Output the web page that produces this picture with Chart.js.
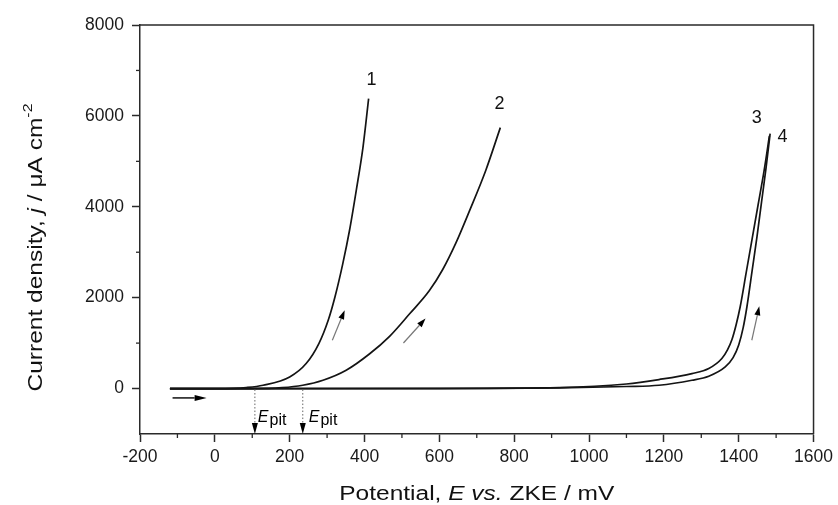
<!DOCTYPE html>
<html>
<head>
<meta charset="utf-8">
<script src="https://cdn.jsdelivr.net/npm/chart.js@4.4.0/dist/chart.umd.min.js"></script>
<style>
    html, body { margin: 0; padding: 0; background: #fff; }
    #wrap { width: 838px; height: 505px; }
</style>
</head>
<body>
<div id="wrap"><canvas id="myChart" width="838" height="505"></canvas></div>
<script>
//region Данные (E в мВ, j в мкА/см2)
const curve1E = [-120, 0, 50, 84, 129, 200, 244, 278, 303, 321, 342, 360, 378, 396, 411];
const curve1J = [0, 0, 5, 22, 73, 255, 550, 990, 1503, 2015, 2750, 3483, 4363, 5315, 6380];

const curve2E = [-120, 100, 180, 235, 289, 351, 413, 467, 520, 573, 609, 644, 680, 724, 763];
const curve2J = [0, 0, 20, 73, 183, 403, 760, 1150, 1640, 2150, 2620, 3200, 3900, 4800, 5742];

const curve3E = [-120, 600, 920, 1100, 1187, 1275, 1320, 1355, 1370, 1382, 1393, 1404, 1420, 1436, 1452, 1468, 1482];
const curve3J = [0, 5, 22, 100, 198, 330, 440, 660, 850, 1080, 1400, 1800, 2550, 3300, 4050, 4800, 5560];

const curve4E = [-120, 600, 920, 1100, 1187, 1275, 1320, 1364, 1385, 1400, 1412, 1422, 1436, 1449, 1461, 1473, 1484];
const curve4J = [0, 0, 15, 45, 73, 183, 271, 475, 680, 960, 1340, 1800, 2600, 3350, 4100, 4850, 5610];

const xTicks = [-200, -100, 0, 100, 200, 300, 400, 500, 600, 700, 800, 900, 1000, 1100, 1200, 1300, 1400, 1500, 1600];
const xLabels = [-200, 0, 200, 400, 600, 800, 1000, 1200, 1400, 1600];
const yTicks = [-1000, 0, 1000, 2000, 3000, 4000, 5000, 6000, 7000, 8000];
const yLabels = [0, 2000, 4000, 6000, 8000];

// подписи кривых
const curveNames = ['1', '2', '3', '4'];
const curveNameE = [419, 761, 1448, 1517];
const curveNameJ = [6780, 6266, 5947, 5533];

// стрелки направления развертки [E0, j0, E1, j1]
const scanArrows = [[314, 1063, 347, 1723], [504, 1003, 563, 1540], [1435, 1063, 1455, 1810]];
const startArrow = [-113, -206, -22, -206];
const pitE = [107, 235];
const pitLabelE = [115, 251];
const pitLabelJ = -735;
//endregion

function pts(xs, ys) {
    return xs.map((x, i) => ({x: x, y: ys[i]}));
}

const lineColor = '#141414';
const axisColor = '#2a2a2a';

function arrow(c, x0, y0, x1, y1, col, len, w) {
    let a = Math.atan2(y1 - y0, x1 - x0);
    let bx = x1 - Math.cos(a) * len, by = y1 - Math.sin(a) * len;
    c.strokeStyle = col;
    c.beginPath();
    c.moveTo(x0, y0);
    c.lineTo(bx, by);
    c.stroke();
    c.fillStyle = '#000';
    c.beginPath();
    c.moveTo(x1, y1);
    c.lineTo(bx + Math.sin(a) * w / 2, by - Math.cos(a) * w / 2);
    c.lineTo(bx - Math.sin(a) * w / 2, by + Math.cos(a) * w / 2);
    c.closePath();
    c.fill();
}

// текст из кусков с разными шрифтами, по центру, с растяжкой по ширине
function richText(c, parts, cx, baseY, targetW) {
    let w = 0;
    parts.forEach(p => { c.font = p.font; p.w = c.measureText(p.t).width; w += p.w; });
    let k = targetW ? targetW / w : 1;
    c.save();
    c.translate(cx, baseY);
    c.scale(k, 1);
    let x = -w / 2;
    c.textAlign = 'left';
    c.textBaseline = 'alphabetic';
    parts.forEach(p => {
        c.font = p.font;
        c.fillText(p.t, x, p.dy || 0);
        x += p.w;
    });
    c.restore();
}

const extras = {
    id: 'extras',
    afterDraw(chart) {
        const c = chart.ctx;
        const xs = chart.scales.x, ys = chart.scales.y;
        const a = chart.chartArea;
        c.save();

        // рамка сверху и справа
        c.strokeStyle = axisColor;
        c.lineWidth = 1.5;
        c.beginPath();
        c.moveTo(a.left, a.top);
        c.lineTo(a.right, a.top);
        c.lineTo(a.right, a.bottom);
        c.stroke();

        // малые засечки
        c.lineWidth = 1.3;
        xTicks.filter(v => !xLabels.includes(v)).forEach(v => {
            let px = xs.getPixelForValue(v);
            c.beginPath();
            c.moveTo(px, a.bottom);
            c.lineTo(px, a.bottom + 4);
            c.stroke();
        });
        yTicks.filter(v => !yLabels.includes(v) && v > ys.min).forEach(v => {
            let py = ys.getPixelForValue(v);
            c.beginPath();
            c.moveTo(a.left, py);
            c.lineTo(a.left - 4, py);
            c.stroke();
        });

        // номера кривых
        c.fillStyle = '#111';
        c.font = '18px "Liberation Sans", Arial, sans-serif';
        c.textAlign = 'center';
        c.textBaseline = 'middle';
        curveNames.forEach((n, i) => {
            c.fillText(n, xs.getPixelForValue(curveNameE[i]), ys.getPixelForValue(curveNameJ[i]));
        });

        // стрелки
        c.lineWidth = 1.2;
        scanArrows.forEach(s => {
            arrow(c, xs.getPixelForValue(s[0]), ys.getPixelForValue(s[1]),
                xs.getPixelForValue(s[2]), ys.getPixelForValue(s[3]), '#777', 9, 6);
        });
        c.lineWidth = 1.5;
        arrow(c, xs.getPixelForValue(startArrow[0]), ys.getPixelForValue(startArrow[1]),
            xs.getPixelForValue(startArrow[2]), ys.getPixelForValue(startArrow[3]), '#111', 12, 6);

        // E_pit
        pitE.forEach((e, i) => {
            let px = xs.getPixelForValue(e);
            c.lineWidth = 1;
            c.setLineDash([1.5, 2]);
            c.strokeStyle = '#666';
            c.beginPath();
            c.moveTo(px, ys.getPixelForValue(0) + 1);
            c.lineTo(px, a.bottom - 10);
            c.stroke();
            c.setLineDash([]);
            c.fillStyle = '#000';
            c.beginPath();
            c.moveTo(px, a.bottom);
            c.lineTo(px - 3, a.bottom - 11);
            c.lineTo(px + 3, a.bottom - 11);
            c.closePath();
            c.fill();

            let lx = xs.getPixelForValue(pitLabelE[i]);
            let ly = ys.getPixelForValue(pitLabelJ);
            c.textAlign = 'left';
            c.textBaseline = 'alphabetic';
            c.font = 'italic 16px "Liberation Sans", Arial, sans-serif';
            c.fillText('E', lx, ly);
            let ew = c.measureText('E').width;
            c.font = '16px "Liberation Sans", Arial, sans-serif';
            c.fillText('pit', lx + ew + 1, ly + 3);
        });

        // подписи осей
        c.fillStyle = '#111';
        const f = '20px "Liberation Sans", Arial, sans-serif';
        const fi = 'italic 20px "Liberation Sans", Arial, sans-serif';
        richText(c, [
            {t: 'Potential, ', font: f},
            {t: 'E', font: fi},
            {t: ' ', font: f},
            {t: 'vs.', font: fi},
            {t: ' ZKE / mV', font: f}
        ], (a.left + a.right) / 2, 499.5, 275);

        c.save();
        c.translate(41.5, 247.5);
        c.rotate(-Math.PI / 2);
        richText(c, [
            {t: 'Current density, ', font: f},
            {t: 'j', font: fi},
            {t: ' / \u03bcA cm', font: f},
            {t: '-2', font: '13px "Liberation Sans", Arial, sans-serif', dy: -10}
        ], 0, 0, 288);
        c.restore();

        c.restore();
    }
};

function mkSet(xs, ys) {
    return {
        data: pts(xs, ys),
        showLine: true,
        borderColor: lineColor,
        borderWidth: 1.7,
        pointRadius: 0,
        cubicInterpolationMode: 'monotone',
        fill: false
    };
}

const ctx = document.getElementById('myChart');
let chart = new Chart(ctx, {
    type: 'scatter',
    data: {
        datasets: [
            mkSet(curve1E, curve1J),
            mkSet(curve2E, curve2J),
            mkSet(curve3E, curve3J),
            mkSet(curve4E, curve4J)
        ]
    },
    options: {
        responsive: false,
        animation: false,
        events: [],
        layout: {padding: {left: 0, top: 25, right: 22, bottom: 0}},
        plugins: {legend: {display: false}, tooltip: {enabled: false}},
        scales: {
            x: {
                type: 'linear',
                min: -200,
                max: 1600,
                afterBuildTicks: s => { s.ticks = xTicks.map(v => ({value: v})); },
                afterFit: s => { s.height = 71; },
                ticks: {
                    autoSkip: false,
                    maxRotation: 0,
                    padding: 5,
                    color: '#1a1a1a',
                    font: {family: '"Liberation Sans", Arial, sans-serif', size: 17.5},
                    callback: v => xLabels.includes(v) ? String(v) : ''
                },
                grid: {
                    drawOnChartArea: false,
                    drawTicks: true,
                    tickLength: 8,
                    tickWidth: 1.5,
                    tickColor: c => (c.tick && xLabels.includes(c.tick.value)) ? axisColor : 'rgba(0,0,0,0)'
                },
                border: {display: true, color: axisColor, width: 1.5}
            },
            y: {
                type: 'linear',
                min: -1000,
                max: 8000,
                afterBuildTicks: s => { s.ticks = yTicks.map(v => ({value: v})); },
                afterFit: s => { s.width = 140; },
                ticks: {
                    autoSkip: false,
                    padding: 8,
                    color: '#1a1a1a',
                    font: {family: '"Liberation Sans", Arial, sans-serif', size: 17.5},
                    callback: v => yLabels.includes(v) ? String(v) : ''
                },
                grid: {
                    drawOnChartArea: false,
                    drawTicks: true,
                    tickLength: 8,
                    tickWidth: 1.5,
                    tickColor: c => (c.tick && yLabels.includes(c.tick.value)) ? axisColor : 'rgba(0,0,0,0)'
                },
                border: {display: true, color: axisColor, width: 1.5}
            }
        }
    },
    plugins: [extras]
});
</script>
</body>
</html>
